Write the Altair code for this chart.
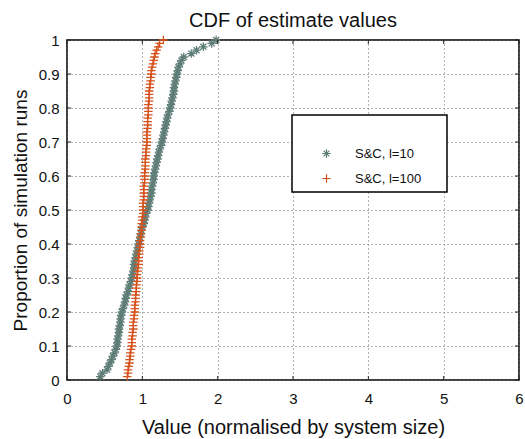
import altair as alt
import pandas as pd

series_names = ["S&C, l=10", "S&C, l=100"]
proportions = [i / 100 for i in range(1, 101)]

values_l10 = [
    0.44, 0.47, 0.53, 0.55, 0.57, 0.59, 0.61, 0.63, 0.65, 0.66,
    0.67, 0.67, 0.68, 0.69, 0.69, 0.70, 0.71, 0.71, 0.72, 0.73,
    0.74, 0.76, 0.77, 0.78, 0.79, 0.81, 0.82, 0.83, 0.85, 0.86,
    0.87, 0.88, 0.89, 0.89, 0.90, 0.91, 0.92, 0.93, 0.94, 0.95,
    0.96, 0.97, 0.98, 0.99, 1.00, 1.02, 1.03, 1.04, 1.05, 1.07,
    1.08, 1.09, 1.10, 1.11, 1.12, 1.12, 1.13, 1.14, 1.15, 1.15,
    1.16, 1.17, 1.18, 1.19, 1.20, 1.21, 1.22, 1.23, 1.25, 1.26,
    1.27, 1.28, 1.29, 1.30, 1.31, 1.32, 1.33, 1.34, 1.36, 1.37,
    1.38, 1.39, 1.40, 1.41, 1.42, 1.42, 1.43, 1.44, 1.45, 1.46,
    1.47, 1.48, 1.50, 1.52, 1.55, 1.65, 1.72, 1.81, 1.92, 1.98,
]

values_l100 = [
    0.80, 0.81, 0.81, 0.82, 0.83, 0.83, 0.84, 0.84, 0.85, 0.86,
    0.86, 0.86, 0.87, 0.87, 0.88, 0.88, 0.88, 0.89, 0.89, 0.90,
    0.90, 0.90, 0.91, 0.91, 0.91, 0.92, 0.92, 0.92, 0.93, 0.93,
    0.93, 0.94, 0.94, 0.95, 0.95, 0.95, 0.96, 0.96, 0.97, 0.97,
    0.97, 0.98, 0.98, 0.99, 0.99, 0.99, 1.00, 1.00, 1.01, 1.01,
    1.01, 1.01, 1.02, 1.02, 1.02, 1.02, 1.02, 1.03, 1.03, 1.03,
    1.03, 1.04, 1.04, 1.04, 1.04, 1.05, 1.05, 1.05, 1.06, 1.06,
    1.06, 1.06, 1.06, 1.07, 1.07, 1.07, 1.07, 1.08, 1.08, 1.08,
    1.08, 1.09, 1.09, 1.09, 1.09, 1.10, 1.10, 1.11, 1.11, 1.12,
    1.12, 1.13, 1.14, 1.15, 1.16, 1.17, 1.19, 1.21, 1.23, 1.28,
]

x_ticks = [0, 1, 2, 3, 4, 5, 6]
y_ticks = [0, 0.1, 0.2, 0.3, 0.4, 0.5, 0.6, 0.7, 0.8, 0.9, 1]

colors = ["#5f7d77", "#d6521d"]
asterisk = "M0,-1L0,1M-1,0L1,0M-0.7,-0.7L0.7,0.7M-0.7,0.7L0.7,-0.7"
plus = "M0,-1L0,1M-1,0L1,0"

W, H = 452, 340
FONT = "Liberation Sans"

df = pd.DataFrame({
    "value": values_l10 + values_l100,
    "prop": proportions + proportions,
    "series": [series_names[0]] * len(values_l10) + [series_names[1]] * len(values_l100),
})

xscale = alt.Scale(domain=[0, 6], nice=False, zero=False)
yscale = alt.Scale(domain=[0, 1], nice=False, zero=False)

xaxis = alt.Axis(values=x_ticks, format="d", title="Value (normalised by system size)", grid=True)
yaxis = alt.Axis(values=y_ticks, format="~g", title="Proportion of simulation runs", grid=True)

legend = alt.Legend(
    title=None, orient="none", legendX=253, legendY=107,
    labelFont=FONT, labelFontSize=13, labelColor="#111",
    symbolSize=70, symbolStrokeWidth=1.2, rowPadding=10, labelOffset=22,
    padding=0, strokeColor="transparent",
)

points = alt.Chart(df).mark_point(filled=False, strokeWidth=1.3, opacity=1).encode(
    x=alt.X("value:Q", scale=xscale, axis=xaxis),
    y=alt.Y("prop:Q", scale=yscale, axis=yaxis),
    color=alt.Color("series:N", scale=alt.Scale(domain=series_names, range=colors), legend=legend),
    shape=alt.Shape("series:N", scale=alt.Scale(domain=series_names, range=[asterisk, plus]), legend=legend),
    size=alt.value(72),
)

ticks_df_x = pd.DataFrame({"t": x_ticks})
ticks_df_y = pd.DataFrame({"t": y_ticks})

xt_bottom = alt.Chart(ticks_df_x).mark_rule(color="#222").encode(
    x=alt.X("t:Q", scale=xscale, axis=xaxis), y=alt.value(H), y2=alt.value(H - 4))
xt_top = alt.Chart(ticks_df_x).mark_rule(color="#222").encode(
    x=alt.X("t:Q", scale=xscale, axis=xaxis), y=alt.value(0), y2=alt.value(4))
yt_left = alt.Chart(ticks_df_y).mark_rule(color="#222").encode(
    y=alt.Y("t:Q", scale=yscale, axis=yaxis), x=alt.value(0), x2=alt.value(4))
yt_right = alt.Chart(ticks_df_y).mark_rule(color="#222").encode(
    y=alt.Y("t:Q", scale=yscale, axis=yaxis), x=alt.value(W), x2=alt.value(W - 4))

legend_box = alt.Chart(ticks_df_x.head(1)).mark_rect(
    fill="white", stroke="black", strokeWidth=1.5).encode(
    x=alt.value(225), x2=alt.value(380), y=alt.value(75), y2=alt.value(152))

chart = alt.layer(points, xt_bottom, xt_top, yt_left, yt_right, legend_box).properties(
    width=W, height=H,
    title=alt.TitleParams("CDF of estimate values", font=FONT, fontSize=20,
                          fontWeight="normal", color="#111", offset=2),
    autosize=alt.AutoSizeParams(type="none"),
    padding={"left": 67, "top": 40, "right": 6, "bottom": 59},
    background="white",
).configure_view(
    stroke="black", strokeWidth=1.5
).configure_axis(
    labelFont=FONT, titleFont=FONT, labelFontSize=15,
    titleFontWeight="normal", labelColor="#111", titleColor="#111",
    domain=False, ticks=False, gridColor="#666", gridDash=[1, 3], gridWidth=1,
).configure_axisX(
    titlePadding=11, titleFontSize=20, labelFlush=False, labelPadding=11
).configure_axisY(
    titlePadding=8, titleFontSize=19, labelFlush=False, labelPadding=8
)

chart.save("out.html", embed_options={"renderer": "svg", "actions": False})
